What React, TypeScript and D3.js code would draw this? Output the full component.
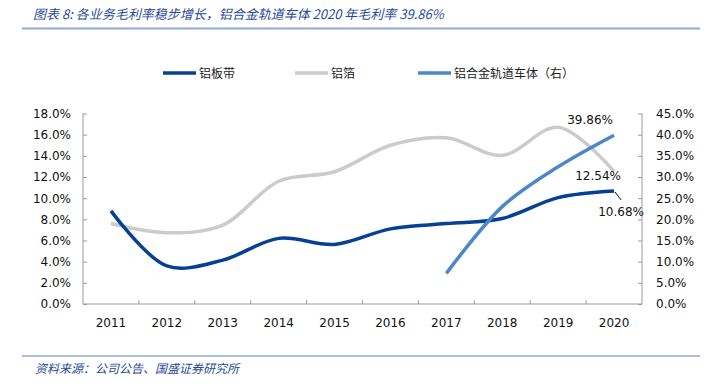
import React, { useEffect, useRef } from 'react';
import * as d3 from 'd3';

const years = ['2011', '2012', '2013', '2014', '2015', '2016', '2017', '2018', '2019', '2020'];
// 铝板带 gross margin (%), left axis
const plateStrip = [8.8, 3.6, 4.15, 6.2, 5.63, 7.1, 7.6, 8.08, 10.05, 10.68];
// 铝箔 gross margin (%), left axis
const foil = [7.6, 6.73, 7.45, 11.6, 12.5, 15.0, 15.7, 14.05, 16.7, 12.54];
// 铝合金轨道车体 gross margin (%), right axis, starts 2017
const railYears = ['2017', '2018', '2019', '2020'];
const railBody = [7.24, 23.0, 32.4, 39.86];

const leftTicks = [0, 2, 4, 6, 8, 10, 12, 14, 16, 18];
const rightTicks = [0, 5, 10, 15, 20, 25, 30, 35, 40, 45];

const seriesNames = ['铝板带', '铝箔', '铝合金轨道车体（右）'];
const seriesColors = ['#063f96', '#cbcbcb', '#4b87c9'];

const App = () => {
  const chartRef = useRef(null);

  useEffect(() => {
    document.body.style.margin = '0';
    const width = 710;
    const height = 389;
    const marginLeft = 83;
    const marginRight = 642;
    const top = 113.5;
    const bottom = 304;
    const font = '"DejaVu Sans", Verdana, sans-serif';
    const cjk = '"Noto Sans CJK SC", sans-serif';

    const svg = d3.select(chartRef.current)
      .attr('width', width)
      .attr('height', height)
      .attr('viewBox', [0, 0, width, height]);
    svg.selectAll('*').remove();

    const x = d3.scaleBand().domain(years).range([marginLeft, marginRight]);
    const cx = d => x(d) + x.bandwidth() / 2;
    const yL = d3.scaleLinear().domain([0, 18]).range([bottom, top]);
    const yR = d3.scaleLinear().domain([0, 45]).range([bottom, top]);

    // title
    svg.append('text')
      .attr('x', 33).attr('y', 19)
      .attr('font-family', cjk).attr('font-size', 13)
      .attr('font-style', 'italic').attr('fill', '#1f4b99')
      .text('图表 8:  各业务毛利率稳步增长，铝合金轨道车体 2020 年毛利率 39.86%');
    svg.append('line')
      .attr('x1', 22).attr('x2', 700).attr('y1', 28.5).attr('y2', 28.5)
      .attr('stroke', '#8eaad2').attr('stroke-width', 2);

    // source
    svg.append('line')
      .attr('x1', 22).attr('x2', 700).attr('y1', 356).attr('y2', 356)
      .attr('stroke', '#8eaad2').attr('stroke-width', 1.5);
    svg.append('text')
      .attr('x', 35).attr('y', 373)
      .attr('font-family', cjk).attr('font-size', 12)
      .attr('font-style', 'italic').attr('fill', '#1f4b99')
      .text('资料来源：公司公告、国盛证券研究所');

    // legend
    const legendX = [163, 295, 418];
    seriesNames.forEach((name, i) => {
      svg.append('line')
        .attr('x1', legendX[i]).attr('x2', legendX[i] + 33)
        .attr('y1', 73).attr('y2', 73)
        .attr('stroke', seriesColors[i]).attr('stroke-width', 3.5);
      svg.append('text')
        .attr('x', legendX[i] + 36).attr('y', 77.5)
        .attr('font-family', cjk).attr('font-size', 12).attr('fill', '#222')
        .text(name);
    });

    const axisColor = '#9a9a9a';
    // left axis
    const gl = svg.append('g')
      .attr('transform', `translate(${marginLeft},0)`)
      .call(d3.axisRight(yL).tickValues(leftTicks).tickSize(4).tickFormat(d => d.toFixed(1) + '%'));
    gl.select('.domain').attr('stroke', axisColor).attr('d', `M0,${top}V${bottom}`);
    gl.selectAll('.tick line').attr('stroke', axisColor);
    gl.selectAll('.tick text')
      .attr('x', -12).attr('text-anchor', 'end')
      .attr('font-family', font).attr('font-size', 12).attr('fill', '#111');

    // right axis
    const gr = svg.append('g')
      .attr('transform', `translate(${marginRight},0)`)
      .call(d3.axisLeft(yR).tickValues(rightTicks).tickSize(4).tickFormat(d => d.toFixed(1) + '%'));
    gr.select('.domain').attr('stroke', axisColor).attr('d', `M0,${top}V${bottom}`);
    gr.selectAll('.tick line').attr('stroke', axisColor);
    gr.selectAll('.tick text')
      .attr('x', 14).attr('text-anchor', 'start')
      .attr('font-family', font).attr('font-size', 12).attr('fill', '#111');

    // x axis: ticks between categories, pointing up
    const gx = svg.append('g').attr('transform', `translate(0,${bottom})`);
    gx.append('line')
      .attr('x1', marginLeft).attr('x2', marginRight)
      .attr('stroke', axisColor);
    gx.selectAll('line.tk')
      .data(years.slice(1))
      .join('line')
      .attr('class', 'tk')
      .attr('x1', d => x(d)).attr('x2', d => x(d))
      .attr('y1', 0).attr('y2', -4)
      .attr('stroke', axisColor);
    gx.selectAll('text')
      .data(years)
      .join('text')
      .attr('x', d => cx(d)).attr('y', 23)
      .attr('text-anchor', 'middle')
      .attr('font-family', font).attr('font-size', 12).attr('fill', '#111')
      .text(d => d);

    const curve = d3.curveCatmullRom.alpha(0.5);
    const lineL = d3.line().x(d => cx(d[0])).y(d => yL(d[1])).curve(curve);
    const lineR = d3.line().x(d => cx(d[0])).y(d => yR(d[1])).curve(curve);

    svg.append('path')
      .attr('d', lineL(years.map((yr, i) => [yr, foil[i]])))
      .attr('fill', 'none').attr('stroke', seriesColors[1]).attr('stroke-width', 3.5);
    svg.append('path')
      .attr('d', lineL(years.map((yr, i) => [yr, plateStrip[i]])))
      .attr('fill', 'none').attr('stroke', seriesColors[0]).attr('stroke-width', 3.5);
    svg.append('path')
      .attr('d', lineR(railYears.map((yr, i) => [yr, railBody[i]])))
      .attr('fill', 'none').attr('stroke', seriesColors[2]).attr('stroke-width', 3.5);

    // data labels for 2020
    const last = years[years.length - 1];
    const lx = cx(last);
    const label = (tx, ty, t) => svg.append('text')
      .attr('x', tx).attr('y', ty)
      .attr('text-anchor', 'middle')
      .attr('font-family', font).attr('font-size', 12).attr('fill', '#111')
      .text(t);
    label(lx - 24, yR(railBody[railBody.length - 1]) - 11, railBody[railBody.length - 1].toFixed(2) + '%');
    label(lx - 16, yL(foil[foil.length - 1]) + 9, foil[foil.length - 1].toFixed(2) + '%');
    const pv = yL(plateStrip[plateStrip.length - 1]);
    svg.append('line')
      .attr('x1', lx + 1).attr('y1', pv + 1)
      .attr('x2', lx + 7).attr('y2', pv + 9)
      .attr('stroke', '#111').attr('stroke-width', 1);
    label(lx + 7, pv + 25, plateStrip[plateStrip.length - 1].toFixed(2) + '%');
  }, []);

  return <svg ref={chartRef} style={{ display: 'block' }} />;
};

export default App;
